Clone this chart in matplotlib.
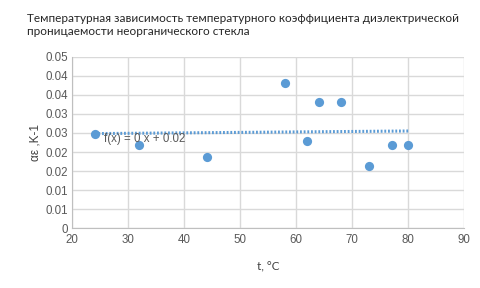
import numpy as np
import matplotlib.pyplot as plt
from matplotlib.ticker import FixedLocator, FuncFormatter

# values
t_vals = [24, 32, 44, 58, 62, 64, 68, 73, 77, 80]
alpha_vals = [0.0247, 0.0219, 0.0188, 0.0380, 0.0230, 0.0330, 0.0330, 0.0163, 0.0219, 0.0219]

title_text = "Температурная зависимость температурного коэффициента диэлектрической\nпроницаемости неорганического стекла"
xlabel_text = "t, °C"
ylabel_text = "αε ,K-1"
trend_text = "f(x) = 0 x + 0.02"

blue = "#5B9BD5"
grey_txt = "#595959"
grid_col = "#D9D9D9"

plt.rcParams['font.family'] = ['Liberation Sans', 'DejaVu Sans']

fig = plt.figure(figsize=(4.8, 2.88), dpi=100)
ax = fig.add_axes([0.1506, 0.2073, 0.8167, 0.5958])

# linear trend line, like excel does
k, b = np.polyfit(t_vals, alpha_vals, 1)
xt = np.array([min(t_vals), max(t_vals)])
ax.plot(xt, k * xt + b, color=blue, lw=2.2, linestyle=(0, (0.6, 0.6)), zorder=2)

ax.scatter(t_vals, alpha_vals, s=44, color=blue, zorder=3, linewidths=0)

ax.text(25.7, 0.0235, trend_text, fontsize=8.3, color=grey_txt, zorder=4, va='center')

ax.set_xlim(20, 90)
ax.set_ylim(0, 0.045)
ax.set_xticks(np.arange(20, 91, 10))
ax.yaxis.set_major_locator(FixedLocator(np.arange(0, 0.0451, 0.005)))


def fmt_y(v, pos):
    if abs(v) < 1e-9:
        return "0"
    r = np.floor(v * 100 + 0.5 + 1e-9) / 100
    return "%.2f" % r


ax.yaxis.set_major_formatter(FuncFormatter(fmt_y))
ax.grid(True, color=grid_col, lw=1)
ax.set_axisbelow(True)
for s in ['top', 'right']:
    ax.spines[s].set_visible(False)
for s in ['left', 'bottom']:
    ax.spines[s].set_color("#BFBFBF")
ax.tick_params(length=0, labelsize=8.3, colors=grey_txt)
ax.tick_params(axis='x', pad=4)
ax.tick_params(axis='y', pad=3)

ax.set_xlabel(xlabel_text, fontsize=8.5, color="#404040", labelpad=11, family=['Lato', 'DejaVu Sans'])
ax.set_ylabel(ylabel_text, fontsize=8.5, color="#404040", labelpad=3)

fig.text(0.056, 0.955, title_text, fontsize=8.5, color="#262626", va='top', ha='left',
         family=['Lato', 'DejaVu Sans'], linespacing=1.2)

fig.savefig("out.png", dpi=100)
